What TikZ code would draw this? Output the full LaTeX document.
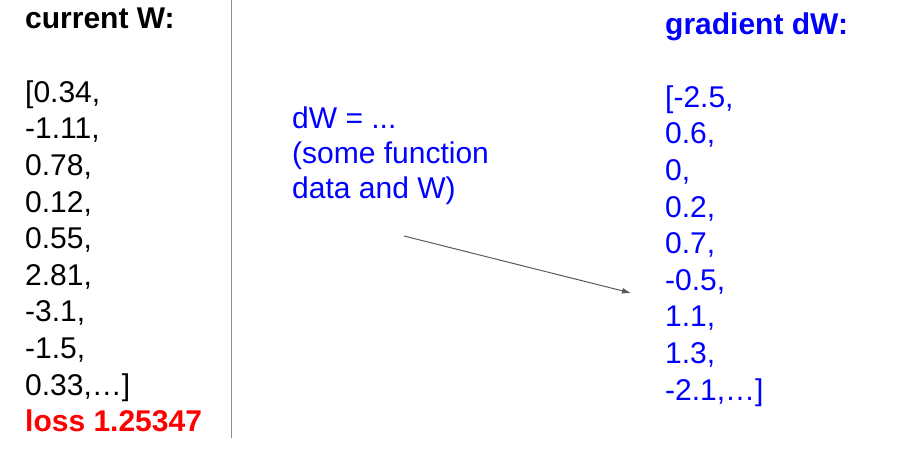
\documentclass[tikz,border=0pt]{standalone}
\usepackage{fontspec}
\setmainfont{Liberation Sans}
\usepackage{tikz}
\usetikzlibrary{positioning}
\usetikzlibrary{arrows.meta}
\definecolor{gradblue}{RGB}{0,0,255}
\definecolor{lossred}{RGB}{255,0,0}
\definecolor{rulegrey}{RGB}{140,140,140}
\definecolor{arrowgrey}{RGB}{90,90,90}
\tikzstyle{listtext} = [anchor=base west, inner sep=0pt, align=left,
                font=\fontsize{30}{36.6}\selectfont]
\tikzstyle{headtext} = [listtext, font=\fontsize{30}{36.6}\selectfont\bfseries]
\tikzstyle{line} = [draw, arrowgrey, line width=1pt, -{Latex[length=9pt,width=6pt]}]

\begin{document}
\begin{tikzpicture}[x=1pt,y=-1pt]
        \useasboundingbox (0,0) rectangle (914,459);
        % left column (base anchor sits on the last line)
        \node[headtext](curw) at (25,28){current W:};
        \node[listtext](wvals) at (25,395){[0.34,\\-1.11,\\0.78,\\0.12,\\0.55,\\2.81,\\-3.1,\\-1.5,\\0.33,…]};
        \node[headtext, text=lossred](loss) at (25,431){loss 1.25347};
        \draw[rulegrey, line width=1pt] (231,0) -- (231,438);
        % middle
        \node[listtext, text=gradblue, font=\fontsize{30}{35}\selectfont](dwfunc) at (292,198){dW = ...\\(some function\\data and W)};
        % right column
        \node[headtext, text=gradblue](gradw) at (665,34){gradient dW:};
        \node[listtext, text=gradblue](dwvals) at (665,400){[-2.5,\\0.6,\\0,\\0.2,\\0.7,\\-0.5,\\1.1,\\1.3,\\-2.1,…]};
        \coordinate (arrowstart) at (404,236);
        \coordinate (arrowend) at (631,293);
        \path[line](arrowstart) -- (arrowend);
    \end{tikzpicture}
\end{document}
